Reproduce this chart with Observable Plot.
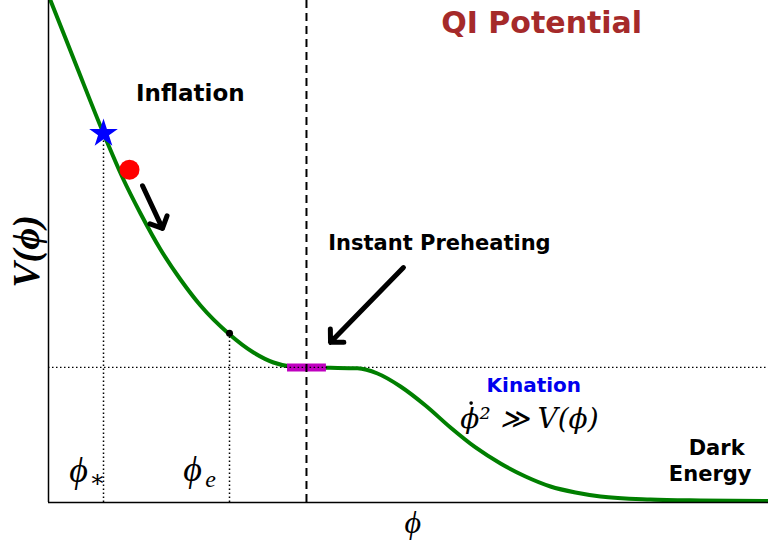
<!DOCTYPE html>
<html>
<head>
<meta charset="utf-8">
<script src="https://cdn.jsdelivr.net/npm/d3@7"></script>
<script src="https://cdn.jsdelivr.net/npm/@observablehq/plot@0.6"></script>
<style>
  html, body { margin: 0; padding: 0; background: #fff; }
  #chart svg { display: block; }
</style>
</head>
<body>
<div id="chart"></div>
<script>
// Potential curve (phi, V)
const phi = [0, 0.028, 0.375, 0.764, 1.028, 1.278, 1.556, 1.833, 2.111, 2.5, 2.847, 3.125, 3.361, 3.583, 3.917, 4.292, 4.569, 4.889, 5.236, 5.583, 5.931, 6.278, 6.625, 6.972, 7.319, 7.667, 8.361, 9.056, 10];
const V   = [10.10, 10.0, 8.745, 7.351, 6.474, 5.757, 5.040, 4.442, 3.924, 3.367, 2.988, 2.789, 2.709, 2.689, 2.683, 2.673, 2.570, 2.311, 1.932, 1.494, 1.096, 0.777, 0.518, 0.319, 0.199, 0.120, 0.060, 0.040, 0.030];

// Special points
const plateauV = 2.69;          // level of the dotted horizontal line
const preheatPhi = 3.583;       // dashed vertical line
const starPt = {phi: 0.764, V: 7.35};
const ballPt = {phi: 1.125, V: 6.63};
const endPt  = {phi: 2.514, V: 3.37};
const bar    = {phi1: 3.32, phi2: 3.86, V: 2.69};
const phiDot = {phi: 5.87, V: 1.98};   // the time-derivative dot over phi

// Arrows
const arrows = [
  {x1: 1.306, y1: 6.31, x2: 1.583, y2: 5.46},
  {x1: 4.93,  y1: 4.68, x2: 3.917, y2: 3.19}
];

// Labels
const sansLabels = [
  {x: 1.97, y: 8.15, text: "Inflation", size: 23, color: "#000"},
  {x: 6.85, y: 9.55, text: "QI Potential", size: 30, color: "#a52a2a"},
  {x: 5.43, y: 5.17, text: "Instant Preheating", size: 21, color: "#000"},
  {x: 6.74, y: 2.33, text: "Kination", size: 20, color: "#0000ee"},
  {x: 9.28, y: 1.09, text: "Dark", size: 21, color: "#000"},
  {x: 9.19, y: 0.57, text: "Energy", size: 21, color: "#000"}
];
const mathLabels = [
  {x: 0.417, y: 0.64, text: "ϕ"},
  {x: 2.0,   y: 0.66, text: "ϕ"}
];
const subLabels = [
  {x: 0.68, y: 0.47, text: "∗"},
  {x: 2.25, y: 0.47, text: "e"}
];

const curve = phi.map((p, i) => ({phi: p, V: V[i]}));
const serif = "'Liberation Serif', 'DejaVu Serif', serif";

const chart = Plot.plot({
  width: 768,
  height: 545,
  marginLeft: 48,
  marginRight: 0,
  marginTop: 0,
  marginBottom: 43,
  x: {domain: [0, 10], axis: null},
  y: {domain: [0, 10], axis: null},
  style: {background: "#fff"},
  marks: [
    // dotted guides
    Plot.ruleY([plateauV], {stroke: "#000", strokeWidth: 1.3, strokeDasharray: "1.5,2.5"}),
    Plot.ruleX([starPt], {x: "phi", y1: 0, y2: "V", stroke: "#000", strokeWidth: 1.5, strokeDasharray: "1.5,2.5"}),
    Plot.ruleX([endPt], {x: "phi", y1: 0, y2: "V", stroke: "#000", strokeWidth: 1.5, strokeDasharray: "1.5,2.5"}),
    // curve
    Plot.line(curve, {x: "phi", y: "V", stroke: "#007f00", strokeWidth: 4, curve: "monotone-x", clip: true}),
    // magenta bar
    Plot.ruleY([bar], {x1: "phi1", x2: "phi2", y: "V", stroke: "#bf00bf", strokeWidth: 8}),
    Plot.ruleY([plateauV], {x1: 3.3, x2: 3.9, stroke: "#000", strokeWidth: 1.3, strokeDasharray: "1.5,2.5"}),
    // dashed vertical
    Plot.ruleX([preheatPhi], {stroke: "#000", strokeWidth: 2, strokeDasharray: "8,5"}),
    // axes lines
    Plot.ruleX([0], {stroke: "#000", strokeWidth: 1.5}),
    Plot.ruleY([0], {stroke: "#000", strokeWidth: 1.5}),
    // markers
    Plot.dot([starPt], {x: "phi", y: "V", symbol: "star", r: 9, fill: "#0000ff", stroke: null}),
    Plot.dot([ballPt], {x: "phi", y: "V", r: 10, fill: "#ff0000", stroke: null}),
    Plot.dot([endPt], {x: "phi", y: "V", r: 3.5, fill: "#000", stroke: null}),
    // arrows
    Plot.arrow(arrows, {x1: "x1", y1: "y1", x2: "x2", y2: "y2", stroke: "#000", strokeWidth: 5, headLength: 4, headAngle: 90}),
    // sans labels
    ...sansLabels.map(d => Plot.text([d], {x: "x", y: "y", text: "text", fill: d.color, fontSize: d.size, fontWeight: "bold", fontFamily: "'DejaVu Sans', sans-serif"})),
    // math labels
    Plot.text(mathLabels, {x: "x", y: "y", text: "text", fontSize: 36, fontStyle: "italic", fontFamily: serif}),
    Plot.text(subLabels, {x: "x", y: "y", text: "text", fontSize: 24, fontStyle: "italic", fontFamily: serif}),
    Plot.text(["ϕ² ≫ V(ϕ)"], {x: 5.72, y: 1.67, textAnchor: "start", fontSize: 28, fontStyle: "italic", fontFamily: "'DejaVu Serif', serif"}),
    Plot.dot([phiDot], {x: "phi", y: "V", r: 1.8, fill: "#000", stroke: null}),
    // axis labels
    Plot.text(["ϕ"], {x: 5.06, y: 0, dy: 20, fontSize: 32, fontStyle: "italic", fontFamily: serif}),
    Plot.text(["V(ϕ)"], {frameAnchor: "left", textAnchor: "middle", dx: -22, rotate: -90, fontSize: 38, fontWeight: "bold", fontStyle: "italic", fontFamily: serif})
  ]
});
document.getElementById("chart").appendChild(chart);
</script>
</body>
</html>
